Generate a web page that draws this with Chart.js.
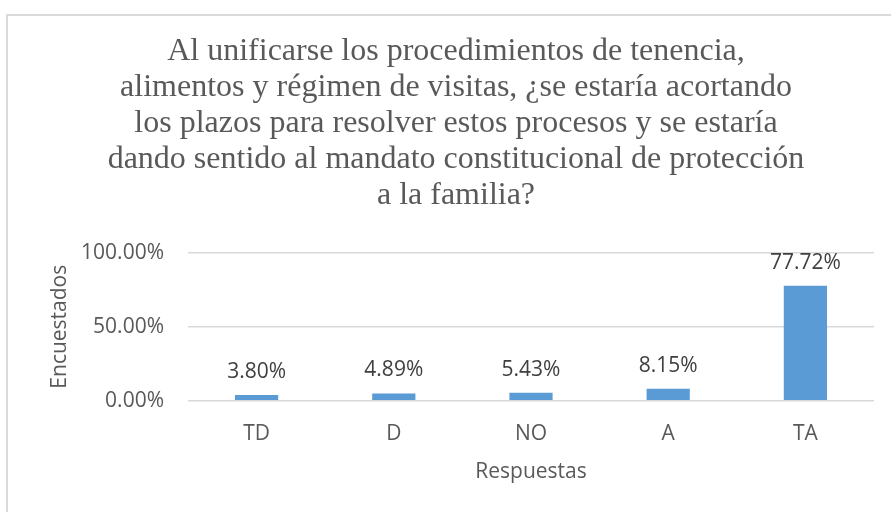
<!DOCTYPE html>
<html>
<head>
<meta charset="utf-8">
<script src="https://cdn.jsdelivr.net/npm/chart.js@4.4.1/dist/chart.umd.min.js"></script>
<style>
  html, body { margin: 0; padding: 0; background: #ffffff; }
  #wrap { width: 891px; height: 512px; position: relative; }
</style>
</head>
<body>
<div id="wrap"><canvas id="barChart" width="891" height="512"></canvas></div>
<script>
// Data
const categories = ['TD', 'D', 'NO', 'A', 'TA'];
const percentages = [3.80, 4.89, 5.43, 8.15, 77.72];
const yTicks = [0, 50, 100];
const titleLines = [
    'Al unificarse los procedimientos de tenencia,',
    'alimentos y régimen de visitas, ¿se estaría acortando',
    'los plazos para resolver estos procesos y se estaría',
    'dando sentido al mandato constitucional de protección',
    'a la familia?'
];
const xTitle = 'Respuestas';
const yTitle = 'Encuestados';

const textGray = '#595959';
const gridGray = '#d9d9d9';

// light frame around the chart (only top and left edges are visible)
const framePlugin = {
    id: 'frame',
    beforeDraw(chart) {
        const ctx = chart.ctx;
        ctx.save();
        ctx.fillStyle = '#ffffff';
        ctx.fillRect(0, 0, chart.width, chart.height);
        ctx.strokeStyle = '#dadada';
        ctx.lineWidth = 2;
        ctx.beginPath();
        ctx.moveTo(7, chart.height);
        ctx.lineTo(7, 15);
        ctx.lineTo(chart.width, 15);
        ctx.stroke();
        ctx.restore();
    }
};

// value labels above each bar
const labelPlugin = {
    id: 'barLabels',
    afterDatasetsDraw(chart) {
        const ctx = chart.ctx;
        const meta = chart.getDatasetMeta(0);
        ctx.save();
        ctx.font = '21px "Open Sans"';
        ctx.fillStyle = '#404040';
        ctx.textAlign = 'center';
        ctx.textBaseline = 'middle';
        meta.data.forEach((bar, i) => {
            const v = chart.data.datasets[0].data[i];
            ctx.fillText(v.toFixed(2) + '%', bar.x, bar.y - 23);
        });
        ctx.restore();
    }
};

let myBarChart = new Chart(document.getElementById('barChart'), {
    type: 'bar',
    data: {
        labels: categories,
        datasets: [{
            data: percentages,
            backgroundColor: '#5b9bd5',
            borderWidth: 0,
            barPercentage: 0.315,
            categoryPercentage: 1.0
        }]
    },
    options: {
        responsive: false,
        animation: false,
        layout: { padding: { left: 38, right: 17, top: 16, bottom: 27.4 } },
        plugins: {
            legend: { display: false },
            tooltip: { enabled: false },
            title: {
                display: true,
                text: titleLines,
                color: textGray,
                font: { family: '"Liberation Serif", "Times New Roman", serif', size: 32, weight: 'normal', lineHeight: 1.125 },
                padding: { top: 18, bottom: 38.7 }
            }
        },
        scales: {
            x: {
                grid: { display: false, drawTicks: false },
                border: { display: false },
                ticks: {
                    color: textGray,
                    padding: 20.7,
                    font: { family: '"Open Sans"', size: 21 }
                },
                title: {
                    display: true,
                    text: xTitle,
                    color: textGray,
                    font: { family: '"Open Sans"', size: 21 },
                    padding: { top: -7.9, bottom: 0 }
                }
            },
            y: {
                min: 0,
                max: 100,
                afterBuildTicks(scale) {
                    scale.ticks = yTicks.map(v => ({ value: v }));
                },
                afterFit(scale) {
                    scale.width = 150;
                },
                grid: { color: gridGray, lineWidth: 1.5, drawTicks: false },
                border: { display: false },
                ticks: {
                    color: textGray,
                    padding: 24,
                    font: { family: '"Open Sans"', size: 21 },
                    callback: v => v.toFixed(2) + '%'
                },
                title: {
                    display: true,
                    text: yTitle,
                    color: textGray,
                    font: { family: '"Open Sans"', size: 21 },
                    padding: { top: 9.4, bottom: 0 }
                }
            }
        }
    },
    plugins: [framePlugin, labelPlugin]
});
</script>
</body>
</html>
